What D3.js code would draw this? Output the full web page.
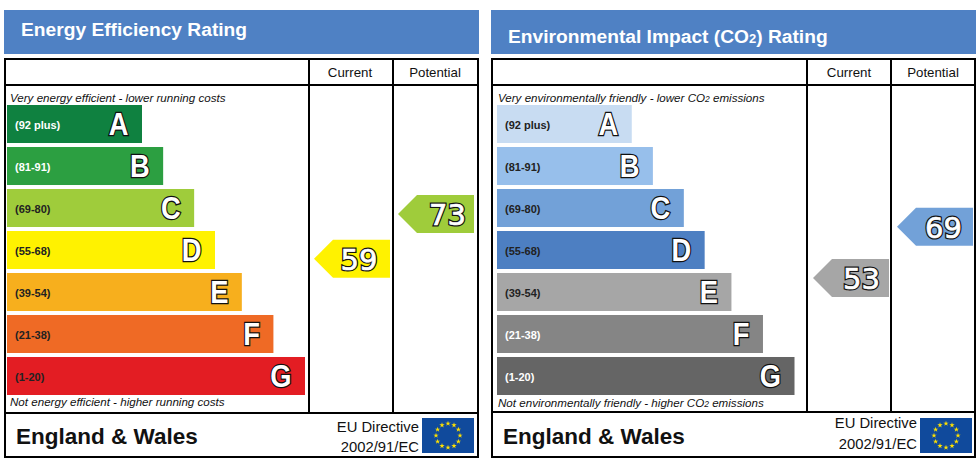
<!DOCTYPE html>
<html>
<head>
<meta charset="utf-8">
<script src="https://cdn.jsdelivr.net/npm/d3@7"></script>
<style>
  html, body { margin: 0; background: #fff; }
  svg { display: block; }
  text { font-family: "Liberation Sans", Arial, sans-serif; fill: #111; }
  .frame { fill: none; stroke: #000; stroke-width: 2; }
  .title { font-size: 19.2px; font-weight: bold; fill: #fff; }
  .col-head { font-size: 13.3px; text-anchor: middle; }
  .note { font-size: 11.6px; font-style: italic; }
  .range { font-size: 11px; font-weight: bold; }
  .letter { font-size: 31px; font-weight: bold; text-anchor: end; fill: #fff; stroke: #111; stroke-width: 2.6; paint-order: stroke; }
  .score { font-family: "DejaVu Sans", sans-serif; font-size: 29px; text-anchor: middle; }
  .score-edge { fill: #111; stroke: #111; stroke-width: 3.2; }
  .score-face { fill: #fff; stroke: #fff; stroke-width: 0.7; }
  .country { font-size: 22.5px; font-weight: bold; }
  .directive { font-size: 14.8px; text-anchor: end; }
</style>
</head>
<body>
<svg id="chart" width="980" height="462"></svg>
<script>
const BANDS = ["A", "B", "C", "D", "E", "F", "G"];
const RANGES = ["(92 plus)", "(81-91)", "(69-80)", "(55-68)", "(39-54)", "(21-38)", "(1-20)"];
// bar length as a percentage of the longest bar
const BAR_LENGTHS = [45.3, 52.4, 62.8, 69.8, 78.8, 89.4, 100];
const ENERGY_COLORS = ["#0f8140", "#2c9f41", "#9fcc3b", "#fff200", "#f7af1d", "#ef6a25", "#e31d23"];
const CO2_COLORS = ["#c8dcf2", "#97bfeb", "#72a1d8", "#4d7fc2", "#a6a6a6", "#858585", "#656565"];
const ENERGY_LABEL_COLORS = ["#fff", "#fff", "#222", "#222", "#222", "#222", "#222"];
const CO2_LABEL_COLORS = ["#222", "#222", "#222", "#222", "#222", "#fff", "#fff"];
const ENERGY_SCORES = [59, 73];
const CO2_SCORES = [53, 69];
const COLUMNS = ["Current", "Potential"];

const svg = d3.select("#chart");
const y = d3.scaleBand().domain(BANDS).range([105, 395]).paddingInner(0.095);
const scoreY = d3.scaleLinear().domain([53, 73]).range([278, 214]);

function bandOf(score) {
  const lows = [92, 81, 69, 55, 39, 21, 1];
  return lows.findIndex((low) => score >= low);
}

function arrowPath(tip, right, cy) {
  const p = d3.path();
  p.moveTo(tip, cy);
  p.lineTo(tip + 19, cy - 19);
  p.lineTo(right, cy - 19);
  p.lineTo(right, cy + 19);
  p.lineTo(tip + 19, cy + 19);
  p.closePath();
  return p.toString();
}

function drawFlag(g, x0, y0) {
  g.append("rect").attr("x", x0).attr("y", y0).attr("width", 52).attr("height", 35).attr("fill", "#104a9c");
  const star = d3.symbol().type(d3.symbolStar).size(9);
  g.selectAll(".star")
    .data(d3.range(12))
    .join("path")
    .attr("d", star)
    .attr("fill", "#ffe100")
    .attr("transform", (i) => {
      const a = (i * Math.PI) / 6;
      return `translate(${x0 + 26 + 12 * Math.sin(a)},${y0 + 17.5 - 12 * Math.cos(a)})`;
    });
}

function drawPanel(cfg) {
  const g = svg.append("g");
  const x = d3.scaleLinear().domain([0, 100]).range([0, cfg.maxBar]);

  g.append("rect").attr("x", cfg.headX).attr("y", 10).attr("width", cfg.headW).attr("height", 44).attr("fill", "#4f81c4");
  const title = g.append("text").attr("class", "title").attr("x", cfg.titleX).attr("y", cfg.titleY);
  cfg.title.forEach(([t, small]) => title.append("tspan").attr("font-size", small ? 13 : null).text(t));

  g.append("rect").attr("class", "frame").attr("x", cfg.left).attr("y", 59).attr("width", cfg.right - cfg.left).attr("height", 398);
  g.append("line").attr("class", "frame").attr("x1", cfg.left).attr("x2", cfg.right).attr("y1", 85).attr("y2", 85);
  g.append("line").attr("class", "frame").attr("x1", cfg.left).attr("x2", cfg.right).attr("y1", cfg.rowY).attr("y2", cfg.rowY);
  cfg.cols.forEach((cx) => {
    g.append("line").attr("class", "frame").attr("x1", cx).attr("x2", cx).attr("y1", 59).attr("y2", cfg.rowY);
  });

  COLUMNS.forEach((c, i) => {
    g.append("text").attr("class", "col-head").attr("x", cfg.colMid[i]).attr("y", 77).text(c);
  });

  const note = (parts, ny) => {
    const t = g.append("text").attr("class", "note").attr("x", cfg.noteX).attr("y", ny);
    parts.forEach(([s, small]) => t.append("tspan").attr("font-size", small ? 8.5 : null).text(s));
  };
  note(cfg.top, 102);
  note(cfg.bottom, cfg.bottomY);

  const rows = g.selectAll(".row").data(BANDS).join("g").attr("class", "row");
  rows.append("rect")
    .attr("x", cfg.barX)
    .attr("y", (d) => y(d))
    .attr("height", y.bandwidth())
    .attr("width", (d, i) => x(BAR_LENGTHS[i]))
    .attr("fill", (d, i) => cfg.colors[i]);
  rows.append("text")
    .attr("class", "range")
    .attr("x", cfg.barX + 8)
    .attr("y", (d) => y(d) + 23.8)
    .style("fill", (d, i) => cfg.labelColors[i])
    .text((d, i) => RANGES[i]);
  // the letters are narrower than the font, so squeeze them horizontally
  rows.append("text")
    .attr("class", "letter")
    .attr("transform", (d, i) => `translate(${cfg.barX + x(BAR_LENGTHS[i]) - 13.5},${y(d) + 30}) scale(0.88,1)`)
    .text((d) => d);

  cfg.scores.forEach((score, i) => {
    const cy = scoreY(score);
    const right = cfg.arrowRight[i];
    g.append("path")
      .attr("d", arrowPath(right - 76, right, cy))
      .attr("fill", cfg.colors[bandOf(score)]);
    ["score-edge", "score-face"].forEach((layer) => {
      g.append("text")
        .attr("class", `score ${layer}`)
        .attr("x", cfg.scoreX[i])
        .attr("y", cy + 11)
        .text(score);
    });
  });

  g.append("text").attr("class", "country").attr("x", cfg.left + 11).attr("y", 444).text("England & Wales");
  g.append("text").attr("class", "directive").attr("x", cfg.dirX).attr("y", cfg.dirY[0]).text("EU Directive");
  g.append("text").attr("class", "directive").attr("x", cfg.dirX).attr("y", cfg.dirY[1]).text("2002/91/EC");
  drawFlag(g, cfg.flagX, 418);
}

drawPanel({
  headX: 4, headW: 475, titleX: 21, titleY: 36,
  title: [["Energy Efficiency Rating", false]],
  left: 5, right: 478, rowY: 413, cols: [309, 393], colMid: [350, 435],
  noteX: 10, bottomY: 406,
  top: [["Very energy efficient - lower running costs", false]],
  bottom: [["Not energy efficient - higher running costs", false]],
  barX: 7, maxBar: 298, colors: ENERGY_COLORS, labelColors: ENERGY_LABEL_COLORS,
  scores: ENERGY_SCORES, arrowRight: [390, 474], scoreX: [359, 447.5],
  dirX: 419, dirY: [432, 452], flagX: 422,
});

drawPanel({
  headX: 491, headW: 485, titleX: 508, titleY: 43,
  title: [["Environmental Impact (CO", false], ["2", true], [") Rating", false]],
  left: 492, right: 975, rowY: 412, cols: [807, 891], colMid: [849, 933],
  noteX: 498, bottomY: 407,
  top: [["Very environmentally friendly - lower CO", false], ["2", true], [" emissions", false]],
  bottom: [["Not environmentally friendly - higher CO", false], ["2", true], [" emissions", false]],
  barX: 497, maxBar: 297.5, colors: CO2_COLORS, labelColors: CO2_LABEL_COLORS,
  scores: CO2_SCORES, arrowRight: [889, 973], scoreX: [861.5, 943.5],
  dirX: 917, dirY: [428, 449], flagX: 920,
});
</script>
</body>
</html>
